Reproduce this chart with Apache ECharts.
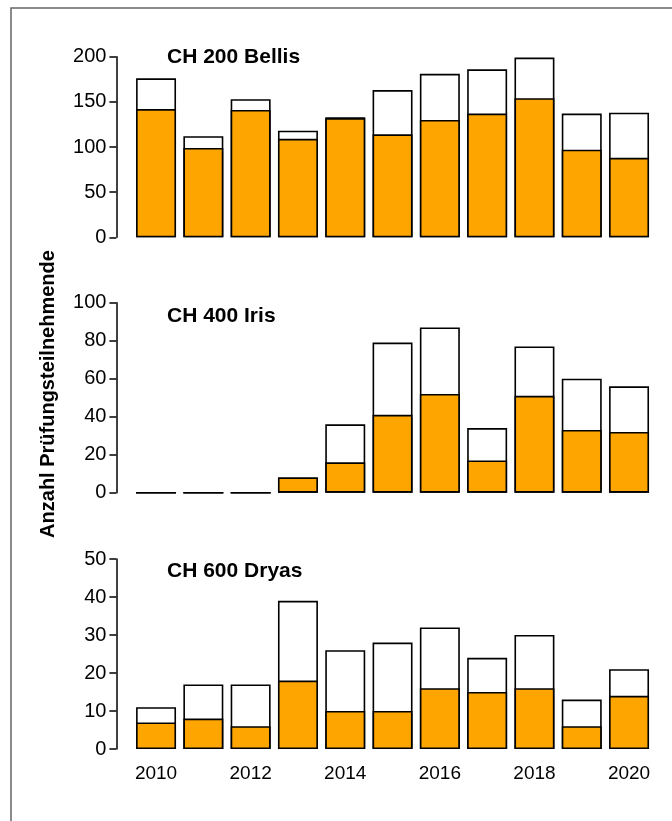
<!DOCTYPE html>
<html>
<head>
<meta charset="utf-8">
<script src="https://cdn.jsdelivr.net/npm/echarts@6/dist/echarts.min.js"></script>
<style>
html,body{margin:0;padding:0;background:#fff;}
#chart{width:672px;height:821px;}
</style>
</head>
<body>
<div id="chart"></div>
<script>
const years = ['2010','2011','2012','2013','2014','2015','2016','2017','2018','2019','2020'];

const bellisTotal  = [176, 112, 153, 118, 133, 163, 181, 186, 199, 137, 138];
const bellisPassed = [142,  99, 141, 109, 132, 114, 130, 137, 154,  97,  88];

const irisTotal  = [0, 0, 0, 8, 36, 79, 87, 34, 77, 60, 56];
const irisPassed = [0, 0, 0, 8, 16, 41, 52, 17, 51, 33, 32];

const dryasTotal  = [11, 17, 17, 39, 26, 28, 32, 24, 30, 13, 21];
const dryasPassed = [ 7,  8,  6, 18, 10, 10, 16, 15, 16,  6, 14];

const panelTitles = ['CH 200 Bellis', 'CH 400 Iris', 'CH 600 Dryas'];
const yMax = [200, 100, 50];
const yStep = [50, 20, 10];
const yTitle = 'Anzahl Prüfungsteilnehmende';

const FONT = '"Liberation Sans", Arial, Helvetica, sans-serif';
const ORANGE = '#FFA500';

const panels = [
  {top: 56.7, height: 180.6, total: bellisTotal, passed: bellisPassed},
  {top: 302.7, height: 190, total: irisTotal, passed: irisPassed},
  {top: 559, height: 190, total: dryasTotal, passed: dryasPassed}
];

const grids = [], xAxes = [], yAxes = [], series = [], graphics = [];
panels.forEach((p, i) => {
  grids.push({left: 132.4, right: 19.3, top: p.top, height: p.height});
  const last = i === panels.length - 1;
  xAxes.push({
    type: 'category', data: years, gridIndex: i,
    axisLine: {show: false}, axisTick: {show: false},
    axisLabel: {show: last, interval: 1, margin: 15, color: '#000', fontSize: 19, fontFamily: FONT}
  });
  yAxes.push({
    type: 'value', gridIndex: i, min: 0, max: yMax[i], interval: yStep[i], offset: 16,
    splitLine: {show: false},
    axisLine: {show: true, lineStyle: {color: '#000', width: 1.5}},
    axisTick: {show: true, length: 7, lineStyle: {color: '#000', width: 1.5}},
    axisLabel: {margin: 10, color: '#000', fontSize: 20, fontFamily: FONT}
  });
  series.push({
    type: 'bar', xAxisIndex: i, yAxisIndex: i, data: p.total,
    barCategoryGap: '15.5%', barGap: '-100%',
    itemStyle: {color: '#fff', borderColor: '#000', borderWidth: 1.6},
    silent: true, animation: false
  });
  series.push({
    type: 'bar', xAxisIndex: i, yAxisIndex: i, data: p.passed,
    barCategoryGap: '15.5%', barGap: '-100%',
    itemStyle: {color: ORANGE, borderColor: '#000', borderWidth: 1.6},
    silent: true, animation: false
  });
});

const titleY = [58, 317, 572];
panelTitles.forEach((t, i) => {
  graphics.push({
    type: 'text', left: 167, top: titleY[i] - 11.5,
    style: {text: t, font: 'bold 21px ' + FONT, fill: '#000'}
  });
});
graphics.push({
  type: 'text', x: 48, y: 394, rotation: Math.PI / 2,
  style: {text: yTitle, font: 'bold 20px ' + FONT, fill: '#000', align: 'center', verticalAlign: 'middle'}
});
graphics.push({
  type: 'rect', shape: {x: 11, y: 8, width: 700, height: 900},
  style: {fill: 'none', stroke: '#666', lineWidth: 1.5}, silent: true
});

const chart = echarts.init(document.getElementById('chart'), null, {renderer: 'canvas'});
chart.setOption({
  animation: false,
  backgroundColor: '#fff',
  grid: grids, xAxis: xAxes, yAxis: yAxes, series: series,
  graphic: graphics
});
</script>
</body>
</html>
